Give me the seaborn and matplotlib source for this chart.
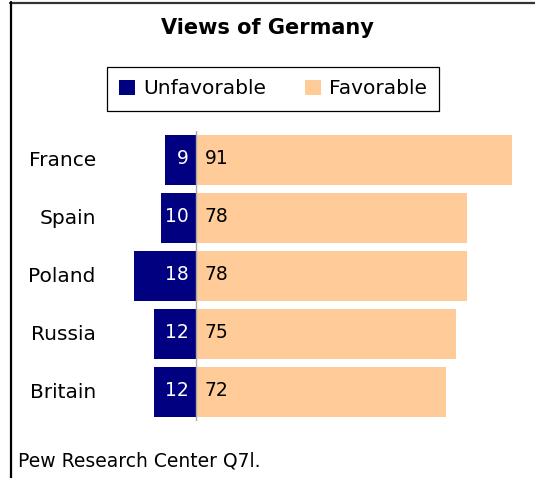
import matplotlib
matplotlib.use("Agg")
import matplotlib.pyplot as plt
from matplotlib.patches import Patch
from matplotlib.lines import Line2D
import seaborn as sns
import pandas as pd

countries = ["France", "Spain", "Poland", "Russia", "Britain"]
unfavorable = [9, 10, 18, 12, 12]
favorable = [91, 78, 78, 75, 72]
title = "Views of Germany"
legend_labels = ["Unfavorable", "Favorable"]
footer = "Pew Research Center Q7l."

navy = "#000080"
peach = "#FFCC99"

sns.set_style("white")
plt.rcParams["font.family"] = ["DejaVu Sans"]
plt.rcParams["text.color"] = "black"
plt.rcParams["ytick.labelcolor"] = "black"
plt.rcParams["ytick.color"] = "black"

df = pd.DataFrame({"country": countries,
                   "unfav": [-v for v in unfavorable],
                   "fav": favorable})

W, H = 535, 478
fig = plt.figure(figsize=(W / 100, H / 100), dpi=100)
ax = fig.add_axes([100 / W, (H - 421) / H, 430 / W, 290 / H])

sns.barplot(data=df, x="fav", y="country", color=peach, width=0.86,
            linewidth=0, saturation=1, ax=ax, orient="h")
sns.barplot(data=df, x="unfav", y="country", color=navy, width=0.86,
            linewidth=0, saturation=1, ax=ax, orient="h")

ax.set_xlim(-96 / 3.47, 334 / 3.47)
ax.axvline(0, color="#a8a8a8", lw=1, zorder=5)

for i, (u, f) in enumerate(zip(unfavorable, favorable)):
    ax.text(-2.0, i - 0.03, str(u), ha="right", va="center", color="white",
            fontsize=13.5)
    ax.text(2.5, i - 0.03, str(f), ha="left", va="center", color="black",
            fontsize=13.5)

for s in ax.spines.values():
    s.set_visible(False)
ax.set_xlabel("")
ax.set_ylabel("")
ax.set_xticks([])
ax.tick_params(axis="y", length=0, pad=3, labelsize=14.5)
for lbl in ax.get_yticklabels():
    lbl.set_color("black")
    lbl.set_va("center")

fig.text(267 / W, 1 - 28 / H, title, ha="center", va="center",
         fontsize=15, fontweight="bold", color="black")

handles = [Patch(facecolor=navy, edgecolor="none"),
           Patch(facecolor=peach, edgecolor="none")]
leg = fig.legend(handles, legend_labels, loc="center",
                 bbox_to_anchor=(273 / W, 1 - 89 / H), ncol=2,
                 frameon=True, fancybox=False, edgecolor="black",
                 framealpha=1, fontsize=14.5, handlelength=0.8,
                 handleheight=0.8, columnspacing=1.9, handletextpad=0.4,
                 borderpad=0.6)
leg.get_frame().set_linewidth(0.9)
for t in leg.get_texts():
    t.set_color("black")

fig.text(18 / W, 1 - 461 / H, footer, ha="left", va="center", fontsize=13.5,
         color="black")

fig.add_artist(Line2D([10 / W, 1], [1 - 3 / H, 1 - 3 / H], color="#333333",
                      lw=1.6, transform=fig.transFigure))
fig.add_artist(Line2D([10.5 / W, 10.5 / W], [0, 1 - 2 / H], color="black",
                      lw=1.6, transform=fig.transFigure))

fig.savefig("out.png", dpi=100)
